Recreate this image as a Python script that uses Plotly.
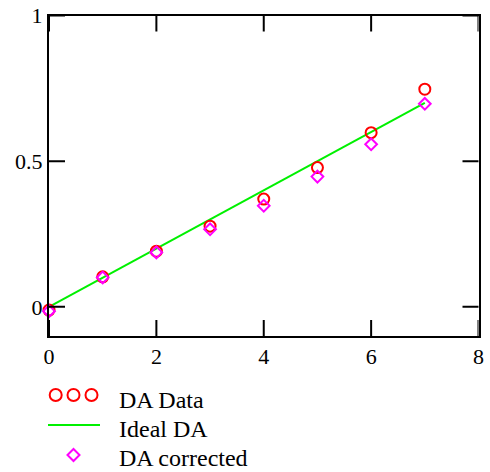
import plotly.graph_objects as go

# ---- data ----
x_vals = [0, 1, 2, 3, 4, 5, 6, 7]
da_data = [-0.011, 0.103, 0.191, 0.277, 0.370, 0.478, 0.598, 0.747]
ideal_da = [0.0, 0.1, 0.2, 0.3, 0.4, 0.5, 0.6, 0.7]
da_corrected = [-0.015, 0.101, 0.187, 0.266, 0.347, 0.447, 0.558, 0.697]
x_ticks = [0, 2, 4, 6, 8]
y_ticks = [0, 0.5, 1]
y_tick_text = ["0", "0.5", "1"]
series_names = ["DA Data", "Ideal DA", "DA corrected"]

W, H = 490, 472
L, R, T, B = 49, 478.5, 15.5, 336
TICKLEN = 16
TX = TICKLEN / (R - L)   # tick length as fraction of x domain
TY = TICKLEN / (B - T)   # tick length as fraction of y domain

RED = "#ff0000"
GREEN = "#00f000"
MAG = "#ff00ff"
FONT = "Liberation Serif"

fig = go.Figure()
fig.add_trace(go.Scatter(x=x_vals, y=ideal_da, mode="lines",
                         line=dict(color=GREEN, width=2), showlegend=False,
                         cliponaxis=False))
fig.add_trace(go.Scatter(x=x_vals, y=da_data, mode="markers",
                         marker=dict(symbol="circle-open", size=11, color=RED,
                                     line=dict(width=2, color=RED)),
                         showlegend=False, cliponaxis=False))
fig.add_trace(go.Scatter(x=x_vals, y=da_corrected, mode="markers",
                         marker=dict(symbol="diamond-open", size=9, color=MAG,
                                     line=dict(width=2, color=MAG)),
                         showlegend=False, cliponaxis=False))

def px(x):
    return x / W

def py(y):
    return 1 - y / H

shapes = []
# inward ticks on all four sides (positions from the tick value lists, via axis scales)
for tv in x_ticks:
    shapes.append(dict(type="line", xref="x", yref="y domain",
                       x0=tv, x1=tv, y0=0, y1=TY,
                       line=dict(color="black", width=2)))
    shapes.append(dict(type="line", xref="x", yref="y domain",
                       x0=tv, x1=tv, y0=1 - TY, y1=1,
                       line=dict(color="black", width=2)))
for tv in y_ticks:
    shapes.append(dict(type="line", xref="x domain", yref="y",
                       x0=0, x1=TX, y0=tv, y1=tv,
                       line=dict(color="black", width=2)))
    shapes.append(dict(type="line", xref="x domain", yref="y",
                       x0=1 - TX, x1=1, y0=tv, y1=tv,
                       line=dict(color="black", width=2)))

# manual legend (paper coordinates, pixel-sized symbols)
for cx in [55.7, 73.5, 91.5]:
    shapes.append(dict(type="circle", xref="paper", yref="paper",
                       xsizemode="pixel", ysizemode="pixel",
                       xanchor=px(cx), yanchor=py(395),
                       x0=-6, x1=6, y0=-6, y1=6,
                       line=dict(color=RED, width=2)))
shapes.append(dict(type="line", xref="paper", yref="paper",
                   x0=px(48), x1=px(100), y0=py(425), y1=py(425),
                   line=dict(color=GREEN, width=2)))
shapes.append(dict(type="path", xref="paper", yref="paper",
                   xsizemode="pixel", ysizemode="pixel",
                   xanchor=px(73.5), yanchor=py(455),
                   path="M -6 0 L 0 6 L 6 0 L 0 -6 Z",
                   line=dict(color=MAG, width=2)))
for name, yy in zip(series_names, [400, 429, 458]):
    fig.add_annotation(x=px(117), y=py(yy), xref="paper", yref="paper", text=name,
                       showarrow=False, xanchor="left", yanchor="middle",
                       font=dict(family=FONT, size=24, color="black"))

fig.update_layout(
    template="none",
    width=W, height=H,
    margin=dict(l=0, r=0, t=0, b=0),
    paper_bgcolor="white", plot_bgcolor="white",
    font=dict(family=FONT, color="black"),
    xaxis=dict(domain=[L / W, R / W], range=[0, 8], tickmode="array",
               tickvals=x_ticks, showline=True, linewidth=2, linecolor="black",
               mirror=True, ticks="", showgrid=False, zeroline=False,
               tickfont=dict(family=FONT, size=22, color="black")),
    yaxis=dict(domain=[1 - B / H, 1 - T / H], range=[-0.1, 1], tickmode="array",
               tickvals=y_ticks, ticktext=y_tick_text, showline=True, linewidth=2,
               linecolor="black", mirror=True, ticks="", showgrid=False,
               zeroline=False, tickfont=dict(family=FONT, size=22, color="black")),
    shapes=shapes,
    showlegend=False,
)

fig.write_html("out.html")
